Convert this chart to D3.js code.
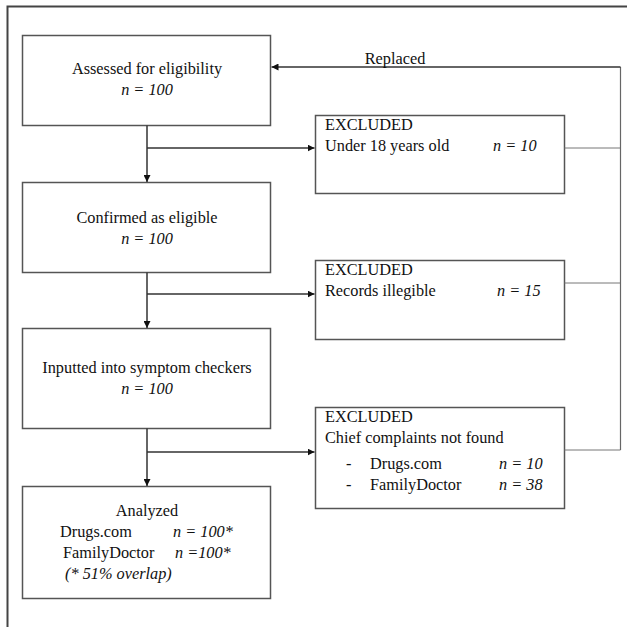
<!DOCTYPE html>
<html>
<head>
<meta charset="utf-8">
<script src="https://cdn.jsdelivr.net/npm/d3@7"></script>
<style>
  html, body { margin: 0; padding: 0; background: #fff; }
  svg { display: block; }
  text { font-family: "Liberation Serif", "Times New Roman", serif; fill: #111; }
</style>
</head>
<body>
<svg id="chart" width="627" height="627"></svg>
<script>
// ---- Data ----
const stageLabels = ["Assessed for eligibility", "Confirmed as eligible", "Inputted into symptom checkers"];
const stageN = [100, 100, 100];
const excludedTitle = "EXCLUDED";
const excludedReasons = ["Under 18 years old", "Records illegible", "Chief complaints not found"];
const excludedN = [10, 15, null];
const notFoundSources = ["Drugs.com", "FamilyDoctor"];
const notFoundN = [10, 38];
const analyzedTitle = "Analyzed";
const analyzedSources = ["Drugs.com", "FamilyDoctor"];
const analyzedN = ["n = 100*", "n =100*"];
const overlapNote = "(* 51% overlap)";
const feedbackLabel = "Replaced";

// ---- Layout ----
const svg = d3.select("#chart");
const FS = 16.3;
const boxStroke = "#555";
const lineStroke = "#333";

svg.append("defs").append("marker")
  .attr("id", "arrow").attr("viewBox", "0 0 10 10")
  .attr("refX", 10).attr("refY", 5)
  .attr("markerWidth", 7).attr("markerHeight", 7)
  .attr("markerUnits", "userSpaceOnUse")
  .attr("orient", "auto")
  .append("path").attr("d", "M0,0 L10,5 L0,10 Z").attr("fill", "#111");

// outer frame (top + left)
svg.append("path").attr("d", "M627,6.5 L7.5,6.5 L7.5,627")
  .attr("fill", "none").attr("stroke", "#444").attr("stroke-width", 2);

const mainX = 22.5, mainW = 248;
const mainBoxes = [
  {y: 35.5, h: 90},
  {y: 182.5, h: 90},
  {y: 328.5, h: 100},
  {y: 486.5, h: 112}
];
const exX = 315.5, exW = 249;
const exBoxes = [
  {y: 115.5, h: 78, link: 148},
  {y: 260.5, h: 79, link: 283},
  {y: 407.5, h: 101, link: 450}
];
const branchY = [148, 294, 452];
const cx = 147;

// draw boxes
mainBoxes.forEach(b => {
  svg.append("rect").attr("x", mainX).attr("y", b.y).attr("width", mainW).attr("height", b.h)
    .attr("fill", "#fff").attr("stroke", boxStroke).attr("stroke-width", 1.5);
});
exBoxes.forEach(b => {
  svg.append("rect").attr("x", exX).attr("y", b.y).attr("width", exW).attr("height", b.h)
    .attr("fill", "#fff").attr("stroke", boxStroke).attr("stroke-width", 1.5);
});

// vertical arrows and branches
for (let i = 0; i < 3; i++) {
  const y0 = mainBoxes[i].y + mainBoxes[i].h;
  const y1 = mainBoxes[i + 1].y;
  svg.append("line").attr("x1", cx).attr("y1", y0).attr("x2", cx).attr("y2", y1 - 0.5)
    .attr("stroke", lineStroke).attr("stroke-width", 1.5).attr("marker-end", "url(#arrow)");
  svg.append("line").attr("x1", cx).attr("y1", branchY[i]).attr("x2", exX - 1).attr("y2", branchY[i])
    .attr("stroke", lineStroke).attr("stroke-width", 1.5).attr("marker-end", "url(#arrow)");
}

// feedback ("Replaced") loop
const fbX = 620.5, fbTop = 67;
exBoxes.forEach(b => {
  svg.append("line").attr("x1", exX + exW).attr("y1", b.link).attr("x2", fbX).attr("y2", b.link)
    .attr("stroke", "#777").attr("stroke-width", 1);
});
svg.append("line").attr("x1", fbX).attr("y1", exBoxes[2].link).attr("x2", fbX).attr("y2", fbTop)
  .attr("stroke", "#666").attr("stroke-width", 1.2);
svg.append("line").attr("x1", fbX).attr("y1", fbTop).attr("x2", mainX + mainW + 1).attr("y2", fbTop)
  .attr("stroke", lineStroke).attr("stroke-width", 1.5).attr("marker-end", "url(#arrow)");
svg.append("text").attr("x", 395).attr("y", 64).attr("text-anchor", "middle")
  .attr("font-size", FS).text(feedbackLabel);

// main stage text
function nText(sel, val) {
  sel.append("tspan").attr("font-style", "italic").text("n = " + val);
}
stageLabels.forEach((lab, i) => {
  const top = [74, 223, 373][i];
  svg.append("text").attr("x", cx).attr("y", top).attr("text-anchor", "middle")
    .attr("font-size", FS).text(lab);
  const t = svg.append("text").attr("x", cx).attr("y", top + 21).attr("text-anchor", "middle")
    .attr("font-size", FS);
  nText(t, stageN[i]);
});

// excluded text
exBoxes.forEach((b, i) => {
  svg.append("text").attr("x", 325).attr("y", b.y + 14.5).attr("font-size", FS).text(excludedTitle);
  svg.append("text").attr("x", 325).attr("y", b.y + 35).attr("font-size", FS).text(excludedReasons[i]);
  if (excludedN[i] !== null) {
    const t = svg.append("text").attr("x", [493, 497][i]).attr("y", b.y + 35).attr("font-size", FS);
    nText(t, excludedN[i]);
  }
});
notFoundSources.forEach((s, j) => {
  const y = exBoxes[2].y + 61 + j * 21;
  svg.append("text").attr("x", 346).attr("y", y).attr("font-size", FS).text("-");
  svg.append("text").attr("x", 370).attr("y", y).attr("font-size", FS).text(s);
  const t = svg.append("text").attr("x", 499).attr("y", y).attr("font-size", FS);
  nText(t, notFoundN[j]);
});

// analyzed box text
svg.append("text").attr("x", cx).attr("y", 515.5).attr("text-anchor", "middle")
  .attr("font-size", FS).text(analyzedTitle);
analyzedSources.forEach((s, j) => {
  const y = 536.5 + j * 21;
  svg.append("text").attr("x", [60, 63][j]).attr("y", y).attr("font-size", FS).text(s);
  svg.append("text").attr("x", [173, 175][j]).attr("y", y).attr("font-size", FS)
    .attr("font-style", "italic").text(analyzedN[j]);
});
svg.append("text").attr("x", 65).attr("y", 578.5).attr("font-size", FS)
  .attr("font-style", "italic").text(overlapNote);
</script>
</body>
</html>
